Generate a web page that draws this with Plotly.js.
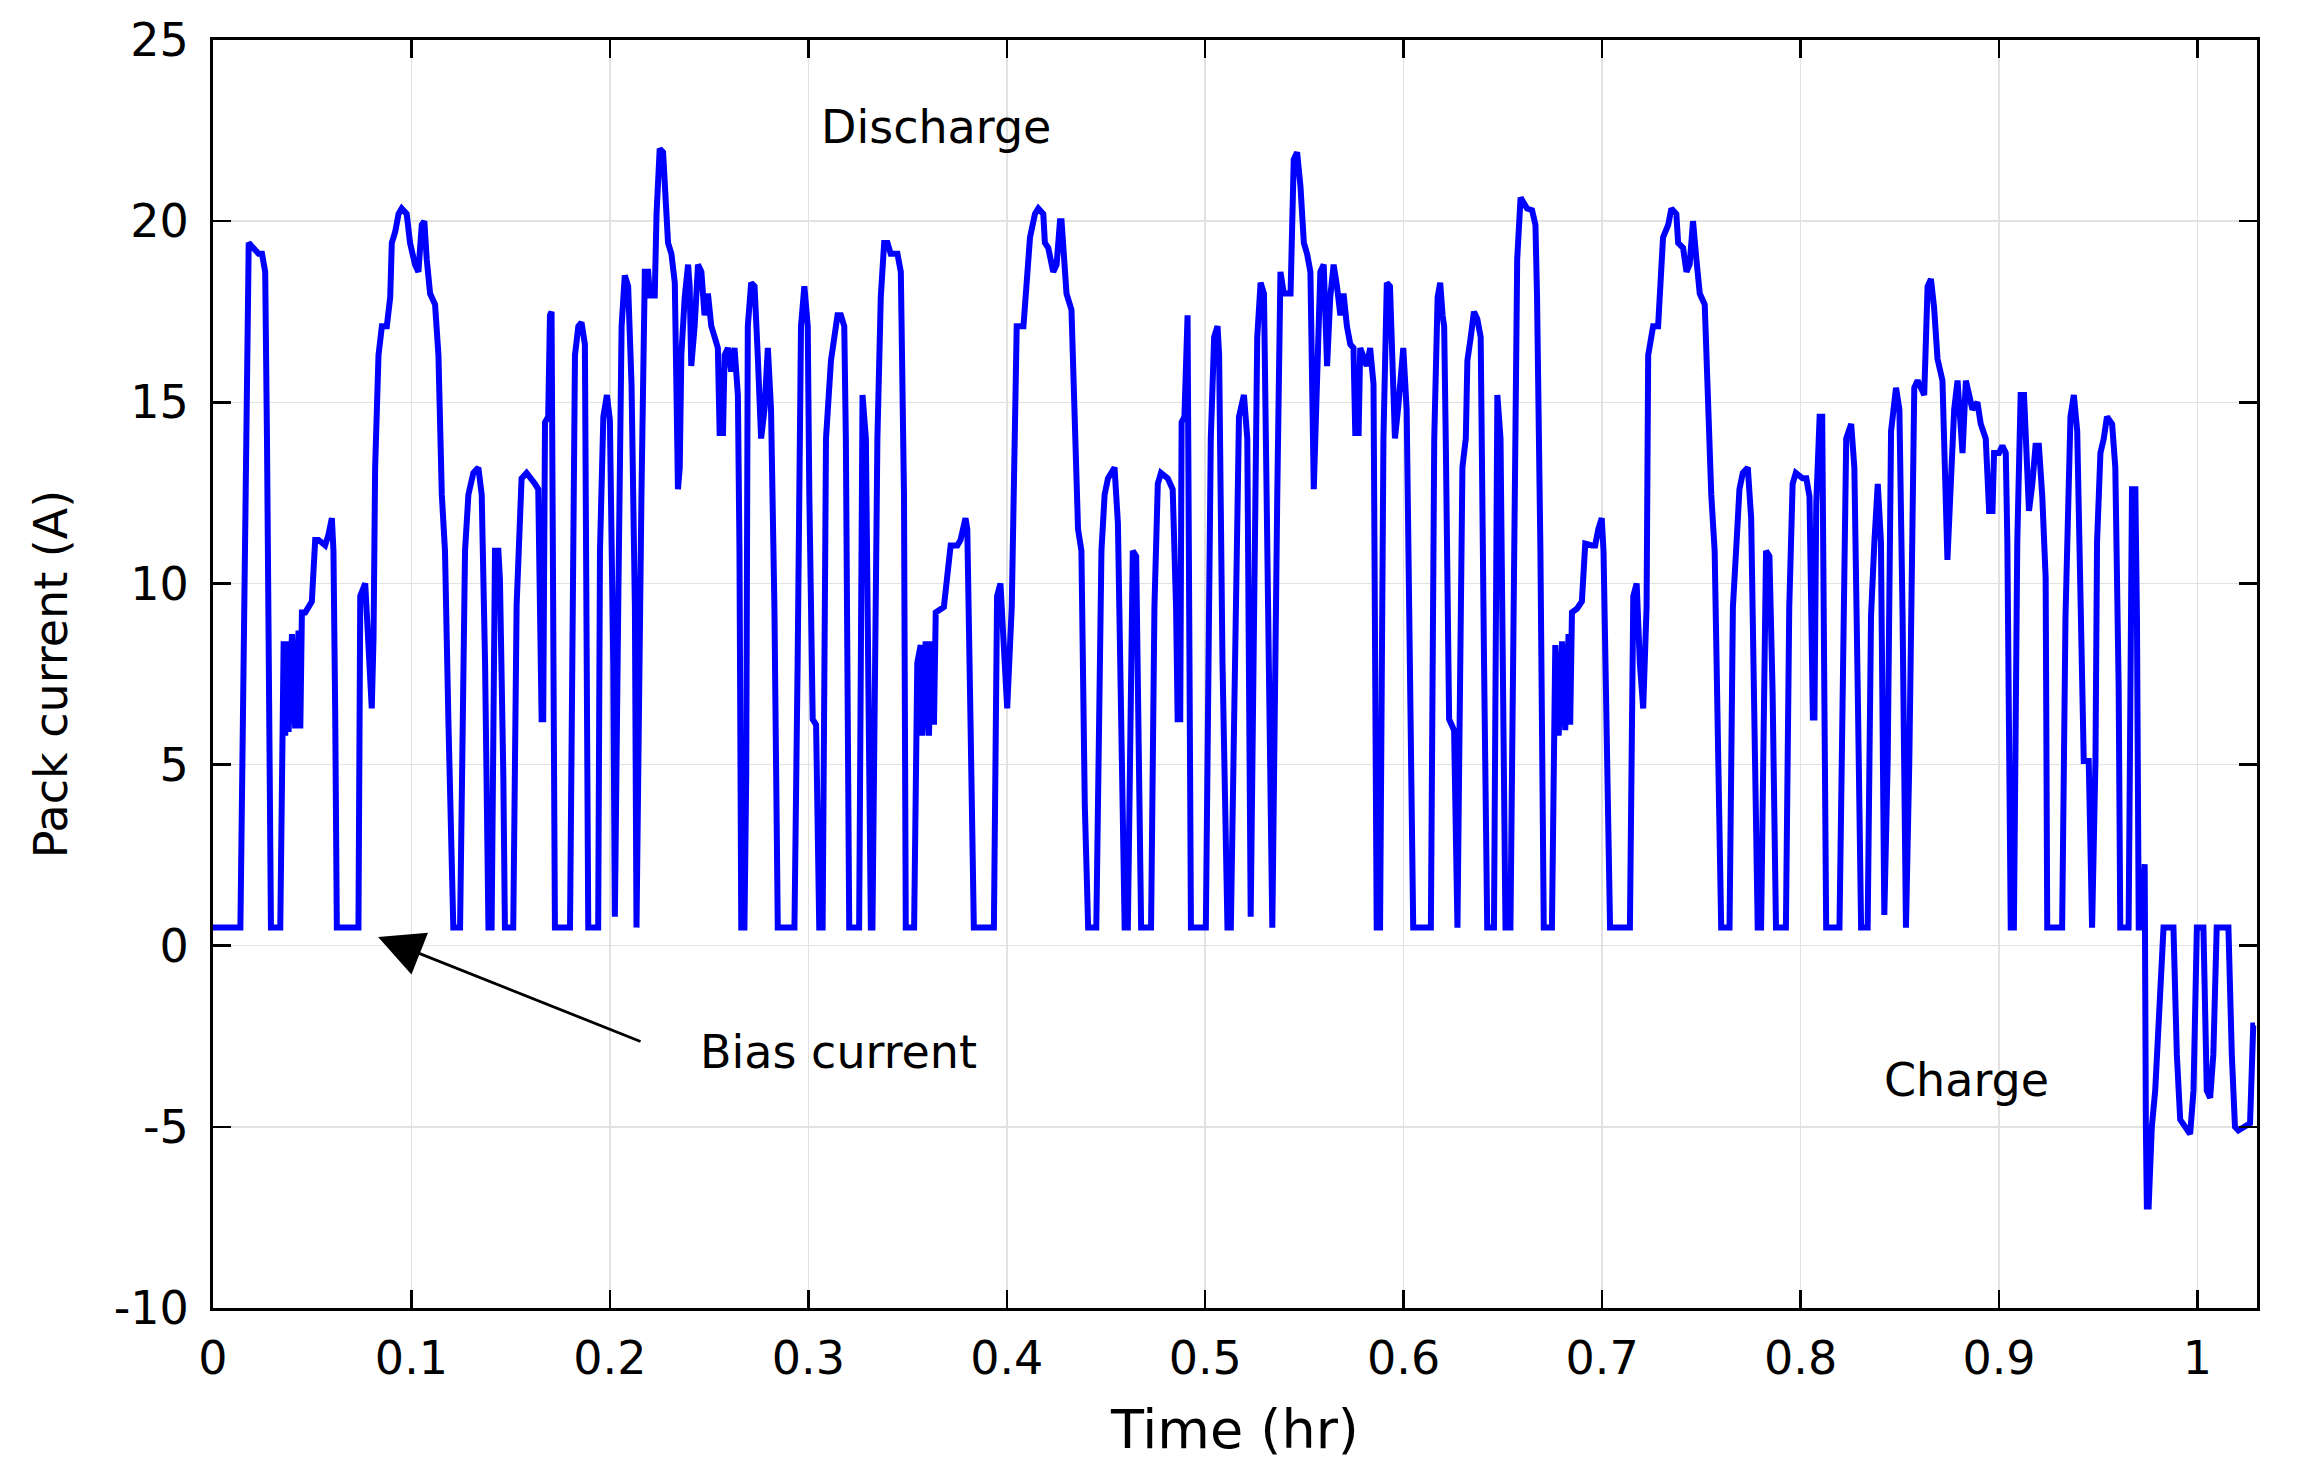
<!DOCTYPE html>
<html>
<head>
<meta charset="utf-8">
<script src="https://cdn.plot.ly/plotly-3.0.1.min.js"></script>
<style>
  body { margin: 0; background: #fff; }
  #current-chart { width: 2301px; height: 1470px; }
</style>
</head>
<body>
<div id="current-chart"></div>
<script>
// pack current, split into the three drive cycles and the charge tail
const cycle1Time = [
  0, 0.0138, 0.0180, 0.0196, 0.0230, 0.0247, 0.0263, 0.0272, 0.0285, 0.0292,
  0.0339, 0.0350, 0.0356, 0.0364, 0.0373, 0.0381, 0.0398, 0.0414, 0.0431, 0.0440,
  0.0448, 0.0465, 0.0498, 0.0515, 0.0532, 0.0565, 0.0582, 0.0599, 0.0607, 0.0616,
  0.0624, 0.0733, 0.0742, 0.0767, 0.0784, 0.0800, 0.0809, 0.0817, 0.0834, 0.0851,
  0.0876, 0.0893, 0.0901, 0.0918, 0.0935, 0.0951, 0.0976, 0.0993, 0.1018, 0.1035,
  0.1052, 0.1065, 0.1077, 0.1094, 0.1119, 0.1136, 0.1153, 0.1169, 0.1186, 0.1211,
  0.1245, 0.1270, 0.1287, 0.1312, 0.1337, 0.1354, 0.1371, 0.1388, 0.1404, 0.1421,
  0.1438, 0.1446, 0.1463, 0.1471, 0.1513, 0.1530, 0.1555, 0.1580, 0.1622, 0.1639,
  0.1656, 0.1664, 0.1673, 0.1689, 0.1698, 0.1706, 0.1723, 0.1799, 0.1824, 0.1841,
  0.1857, 0.1874, 0.1891, 0.1941, 0.1950, 0.1967, 0.1985, 0.2000, 0.2017, 0.2025,
  0.2042, 0.2059, 0.2075, 0.2092, 0.2109, 0.2126, 0.2134, 0.2142, 0.2159, 0.2176,
  0.2193, 0.2201, 0.2226, 0.2235, 0.2251, 0.2268, 0.2285, 0.2293, 0.2310, 0.2327,
  0.2335, 0.2343, 0.2352, 0.2360, 0.2377, 0.2394, 0.2402, 0.2410, 0.2427, 0.2444,
  0.2461, 0.2477, 0.2494, 0.2511, 0.2528, 0.2544, 0.2553, 0.2570, 0.2578, 0.2595,
  0.2611, 0.2628, 0.2645, 0.2653, 0.2662, 0.2678, 0.2687, 0.2695, 0.2712, 0.2729,
  0.2745, 0.2762, 0.2779, 0.2796, 0.2812, 0.2829, 0.2846, 0.2930, 0.2946, 0.2963,
  0.2980, 0.2997, 0.3005, 0.3022, 0.3039, 0.3055, 0.3072, 0.3089, 0.3114, 0.3147,
  0.3164, 0.3181, 0.3189, 0.3206
];
const cycle1Current = [
  0.5, 0.5, 19.4, 19.3, 19.1, 19.1, 18.6, 14.0, 6.0, 0.5,
  0.5, 5.0, 8.4, 5.8, 8.4, 5.9, 8.6, 6.0, 8.7, 6.0,
  9.2, 9.2, 9.5, 11.2, 11.2, 11.05, 11.35, 11.8, 10.9, 6.3,
  0.5, 0.5, 9.65, 10.0, 7.8, 6.55, 8.5, 13.2, 16.3, 17.1,
  17.1, 17.9, 19.4, 19.7, 20.2, 20.35, 20.2, 19.4, 18.8, 18.6,
  19.9, 20.0, 18.95, 18.0, 17.7, 16.3, 12.45, 10.9, 6.25, 0.5,
  0.5, 10.9, 12.45, 13.05, 13.2, 12.45, 7.8, 0.5, 0.5, 10.9,
  10.9, 10.1, 4.7, 0.5, 0.5, 9.4, 12.9, 13.05, 12.75, 12.6,
  6.25, 6.25, 14.45, 14.6, 17.4, 17.5, 0.5, 0.5, 16.3, 17.1,
  17.2, 16.6, 0.5, 0.5, 10.9, 14.6, 15.2, 14.5, 7.8, 0.8,
  9.35, 17.1, 18.5, 18.2, 15.5, 9.35, 0.5, 4.7, 12.45, 18.6,
  18.6, 17.95, 17.95, 20.2, 22.0, 21.9, 20.5, 19.4, 19.1, 18.3,
  15.5, 12.6, 13.2, 16.3, 17.9, 18.8, 18.2, 16.0, 17.1, 18.8,
  18.6, 17.4, 18.0, 17.1, 16.8, 16.5, 14.15, 14.15, 16.3, 16.5,
  15.85, 16.5, 15.2, 10.9, 0.5, 0.5, 4.7, 17.1, 18.3, 18.2,
  16.3, 14.0, 14.8, 16.5, 14.8, 9.35, 0.5, 0.5, 7.8, 17.1,
  18.2, 17.1, 12.45, 6.25, 6.1, 0.5, 0.5, 14.0, 16.15, 17.4,
  17.4, 17.1, 14.0, 0.5
];

const cycle2Time = [
  0.3231, 0.3256, 0.3273, 0.3290, 0.3315, 0.3323, 0.3348, 0.3365, 0.3382, 0.3399,
  0.3415, 0.3449, 0.3466, 0.3482, 0.3491, 0.3533, 0.3549, 0.3566, 0.3575, 0.3591,
  0.3608, 0.3616, 0.3633, 0.3642, 0.3683, 0.3709, 0.3717, 0.3751, 0.3767, 0.3792,
  0.3801, 0.3817, 0.3834, 0.3935, 0.3951, 0.3968, 0.3985, 0.4002, 0.4025, 0.4042,
  0.4050, 0.4084, 0.4100, 0.4117, 0.4142, 0.4159, 0.4184, 0.4192, 0.4209, 0.4234,
  0.4251, 0.4268, 0.4276, 0.4293, 0.4301, 0.4326, 0.4334, 0.4359, 0.4376, 0.4393,
  0.4410, 0.4451, 0.4477, 0.4493, 0.4510, 0.4543, 0.4560, 0.4577, 0.4594, 0.4610,
  0.4627, 0.4635, 0.4652, 0.4660, 0.4677, 0.4727, 0.4744, 0.4761, 0.4777, 0.4811,
  0.4836, 0.4853, 0.4861, 0.4874, 0.4881, 0.4895, 0.4911, 0.4928, 0.5003, 0.5028,
  0.5045, 0.5062, 0.5070, 0.5087, 0.5112, 0.5129, 0.5154, 0.5170, 0.5195, 0.5212,
  0.5229, 0.5246, 0.5262, 0.5279, 0.5296, 0.5313, 0.5338, 0.5363, 0.5379, 0.5396,
  0.5430, 0.5446, 0.5463, 0.5480, 0.5497, 0.5513, 0.5530, 0.5547, 0.5564, 0.5580,
  0.5597, 0.5614, 0.5630, 0.5647, 0.5664, 0.5681, 0.5697, 0.5714, 0.5731, 0.5747,
  0.5756, 0.5773, 0.5781, 0.5814, 0.5831, 0.5848, 0.5864, 0.5881, 0.5898, 0.5915,
  0.5931, 0.5948, 0.5956, 0.5973, 0.5998, 0.6015, 0.6032, 0.6048, 0.6137, 0.6154,
  0.6171, 0.6184, 0.6196, 0.6204, 0.6212, 0.6229, 0.6254, 0.6271, 0.6279, 0.6296,
  0.6313, 0.6321, 0.6338, 0.6354, 0.6371, 0.6388, 0.6405, 0.6421, 0.6455
];
const cycle2Current = [
  0.5, 0.5, 15.2, 14.0, 0.5, 0.5, 14.0, 17.9, 19.4, 19.4,
  19.1, 19.1, 18.6, 12.45, 0.5, 0.5, 7.8, 8.3, 5.8, 8.4,
  5.8, 8.4, 6.1, 9.2, 9.35, 10.9, 11.05, 11.05, 11.2, 11.8,
  11.5, 6.25, 0.5, 0.5, 9.65, 10.0, 7.8, 6.55, 9.35, 16.3,
  17.1, 17.1, 18.2, 19.55, 20.2, 20.35, 20.2, 19.4, 19.26, 18.6,
  18.8, 20.0, 20.0, 18.6, 18.0, 17.55, 16.3, 11.5, 10.9, 3.9,
  0.5, 0.5, 10.9, 12.45, 12.9, 13.2, 11.65, 6.25, 0.5, 0.5,
  9.35, 10.9, 10.75, 6.25, 0.5, 0.5, 9.35, 12.75, 13.05, 12.9,
  12.6, 9.35, 6.25, 6.25, 14.45, 14.6, 17.4, 0.5, 0.5, 14.0,
  16.8, 17.1, 16.3, 7.8, 0.5, 0.5, 10.9, 14.6, 15.2, 14.0,
  0.8, 9.35, 16.8, 18.3, 18.0, 10.9, 0.5, 12.45, 18.6, 18.0,
  18.0, 21.7, 21.9, 20.95, 19.4, 19.1, 18.6, 12.6, 15.5, 18.6,
  18.8, 16.0, 17.9, 18.8, 18.2, 17.4, 18.0, 17.1, 16.6, 16.5,
  14.15, 14.15, 16.5, 16.0, 16.5, 15.5, 0.5, 0.5, 14.0, 18.3,
  18.2, 15.5, 14.0, 14.9, 16.5, 14.8, 7.8, 0.5, 0.5, 14.0,
  17.9, 18.3, 17.4, 17.1, 14.0, 6.25, 5.95, 0.5, 4.7, 13.2,
  14.0, 16.15, 16.8, 17.5, 17.3, 16.8, 7.8, 0.5, 0.5
];

const cycle3Time = [
  0.6472, 0.6488, 0.6497, 0.6513, 0.6538, 0.6555, 0.6572, 0.6589, 0.6605, 0.6622,
  0.6647, 0.6664, 0.6672, 0.6689, 0.6706, 0.6747, 0.6764, 0.6781, 0.6798, 0.6814,
  0.6831, 0.6839, 0.6848, 0.6873, 0.6898, 0.6915, 0.6948, 0.6965, 0.6981, 0.6998,
  0.7007, 0.7023, 0.7040, 0.7140, 0.7157, 0.7174, 0.7190, 0.7207, 0.7224, 0.7232,
  0.7257, 0.7282, 0.7291, 0.7307, 0.7333, 0.7349, 0.7374, 0.7383, 0.7408, 0.7425,
  0.7441, 0.7458, 0.7475, 0.7492, 0.7517, 0.7525, 0.7550, 0.7567, 0.7583, 0.7600,
  0.7642, 0.7659, 0.7675, 0.7692, 0.7709, 0.7734, 0.7751, 0.7767, 0.7784, 0.7801,
  0.7818, 0.7826, 0.7843, 0.7859, 0.7876, 0.7926, 0.7943, 0.7960, 0.7976, 0.8010,
  0.8029, 0.8045, 0.8062, 0.8070, 0.8079, 0.8096, 0.8109, 0.8121, 0.8129, 0.8196,
  0.8213, 0.8230, 0.8255, 0.8271, 0.8288, 0.8305, 0.8338, 0.8355, 0.8372, 0.8389,
  0.8405, 0.8422, 0.8439, 0.8456, 0.8481, 0.8498, 0.8514, 0.8531, 0.8548, 0.8565,
  0.8573, 0.8590, 0.8623, 0.8640, 0.8657, 0.8673, 0.8690, 0.8715, 0.8724, 0.8740,
  0.8757, 0.8774, 0.8791, 0.8807, 0.8816, 0.8833, 0.8849, 0.8866, 0.8891, 0.8908,
  0.8933, 0.8950, 0.8967, 0.8975, 0.9000, 0.9017, 0.9034, 0.9042, 0.9059, 0.9075,
  0.9092, 0.9109, 0.9126, 0.9142, 0.9151, 0.9168, 0.9184, 0.9201, 0.9218, 0.9235,
  0.9243, 0.9318, 0.9335, 0.9360, 0.9377, 0.9394, 0.9410, 0.9427, 0.9452, 0.9469,
  0.9486, 0.9494, 0.9511, 0.9528, 0.9544, 0.9570, 0.9586, 0.9603, 0.9611, 0.9653,
  0.9670, 0.9687, 0.9695, 0.9704, 0.9720
];
const cycle3Current = [
  15.2, 14.0, 7.8, 0.5, 0.5, 9.35, 18.95, 20.65, 20.5, 20.35,
  20.3, 19.9, 17.9, 10.9, 0.5, 0.5, 8.3, 5.8, 8.4, 5.95,
  8.6, 6.1, 9.2, 9.3, 9.5, 11.1, 11.05, 11.05, 11.5, 11.8,
  10.9, 4.7, 0.5, 0.5, 9.65, 10.0, 7.8, 6.55, 9.35, 16.3,
  17.1, 17.1, 18.2, 19.55, 19.9, 20.35, 20.2, 19.4, 19.26, 18.6,
  18.8, 20.0, 18.95, 18.0, 17.7, 16.3, 12.45, 10.9, 6.25, 0.5,
  0.5, 9.35, 10.9, 12.6, 13.05, 13.2, 11.8, 6.25, 0.5, 0.5,
  9.35, 10.9, 10.75, 7.0, 0.5, 0.5, 9.35, 12.75, 13.05, 12.9,
  12.9, 12.4, 6.3, 6.3, 12.2, 14.6, 14.6, 7.1, 0.5, 0.5,
  9.1, 14.0, 14.4, 13.2, 7.1, 0.5, 0.5, 9.1, 11.15, 12.75,
  11.15, 0.85, 5.1, 14.2, 15.4, 14.8, 9.1, 0.5, 5.1, 11.15,
  15.4, 15.6, 15.2, 18.2, 18.4, 17.6, 16.2, 15.6, 13.2, 10.65,
  12.75, 14.8, 15.6, 13.8, 13.6, 15.6, 15.2, 14.8, 15.0, 14.4,
  14.0, 12.0, 12.0, 13.6, 13.6, 13.8, 13.6, 11.15, 0.5, 0.5,
  11.15, 15.2, 15.2, 13.2, 12.0, 12.75, 13.8, 13.8, 12.4, 10.15,
  0.5, 0.5, 9.1, 14.6, 15.2, 14.2, 9.1, 5.1, 5.1, 0.5,
  5.1, 11.15, 13.6, 14.0, 14.6, 14.4, 13.2, 7.1, 0.5, 0.5,
  12.6, 12.6, 9.1, 0.5, 0.5
];

const chargeTime = [
  0.9734, 0.9740, 0.9745, 0.9754, 0.9770, 0.9787, 0.9804, 0.9829, 0.9879, 0.9896,
  0.9913, 0.9938, 0.9963, 0.9980, 0.9997, 1.0030, 1.0047, 1.0064, 1.0080, 1.0097,
  1.0156, 1.0173, 1.0189, 1.0206, 1.0240, 1.0265, 1.0281, 1.0290
];
const chargeCurrent = [
  2.25, -5.0, -7.2, -7.2, -5.0, -4.0, -2.0, 0.5, 0.5, -3.0,
  -4.8, -5.0, -5.2, -4.0, 0.5, 0.5, -4.0, -4.2, -3.0, 0.5,
  0.5, -3.0, -5.0, -5.1, -5.0, -4.9, -2.2, -2.2
];

const xTickVals = [0, 0.1, 0.2, 0.3, 0.4, 0.5, 0.6, 0.7, 0.8, 0.9, 1];
const xTickLabels = ["0", "0.1", "0.2", "0.3", "0.4", "0.5", "0.6", "0.7", "0.8", "0.9", "1"];
const yTickVals = [-10, -5, 0, 5, 10, 15, 20, 25];
const yTickLabels = ["-10", "-5", "0", "5", "10", "15", "20", "25"];

const timeHr = [...cycle1Time, ...cycle2Time, ...cycle3Time, ...chargeTime];
const packCurrent = [...cycle1Current, ...cycle2Current, ...cycle3Current, ...chargeCurrent];

const font = "DejaVu Sans, Verdana, sans-serif";

const trace = {
  x: timeHr,
  y: packCurrent,
  type: "scatter",
  mode: "lines",
  line: { color: "#0000ff", width: 6 },
  hoverinfo: "skip",
};

const axisStyle = {
  showline: true,
  linecolor: "#000",
  linewidth: 3,
  mirror: "ticks",
  ticks: "inside",
  ticklen: 18,
  tickwidth: 2.5,
  tickcolor: "#000",
  showgrid: true,
  gridcolor: "#e2e2e2",
  gridwidth: 1.5,
  zeroline: false,
  tickfont: { family: font, size: 46, color: "#000" },
};

const layout = {
  width: 2301,
  height: 1470,
  margin: { l: 213, r: 44, t: 40, b: 162 },
  paper_bgcolor: "#fff",
  plot_bgcolor: "#fff",
  showlegend: false,
  font: { family: font, color: "#000" },
  xaxis: {
    ...axisStyle,
    range: [0, 1.03],
    tickmode: "array",
    tickvals: xTickVals,
    ticktext: xTickLabels,
    ticklabelstandoff: 8,
    title: { text: "Time (hr)", font: { family: font, size: 54 }, standoff: 26 },
  },
  yaxis: {
    ...axisStyle,
    range: [-10, 25],
    tickmode: "array",
    tickvals: yTickVals,
    ticktext: yTickLabels,
    ticklabelstandoff: 12,
    title: { text: "Pack current (A)", font: { family: font, size: 46 }, standoff: 32 },
  },
  annotations: [
    { x: 0.3644, y: 22.6, text: "Discharge", showarrow: false, font: { family: font, size: 46 } },
    { x: 0.315, y: -2.93, text: "Bias current", showarrow: false, font: { family: font, size: 46 } },
    { x: 0.8836, y: -3.7, text: "Charge", showarrow: false, font: { family: font, size: 46 } },
    // arrow pointing at the bias level
    {
      x: 0.0832, y: 0.24, ax: 0.2162, ay: -2.66, axref: "x", ayref: "y",
      text: "", showarrow: true, arrowhead: 2, arrowsize: 3.2, arrowwidth: 2.8,
      arrowcolor: "#000", standoff: 0,
    },
  ],
};

Plotly.newPlot("current-chart", [trace], layout, { staticPlot: true, displayModeBar: false });
</script>
</body>
</html>
